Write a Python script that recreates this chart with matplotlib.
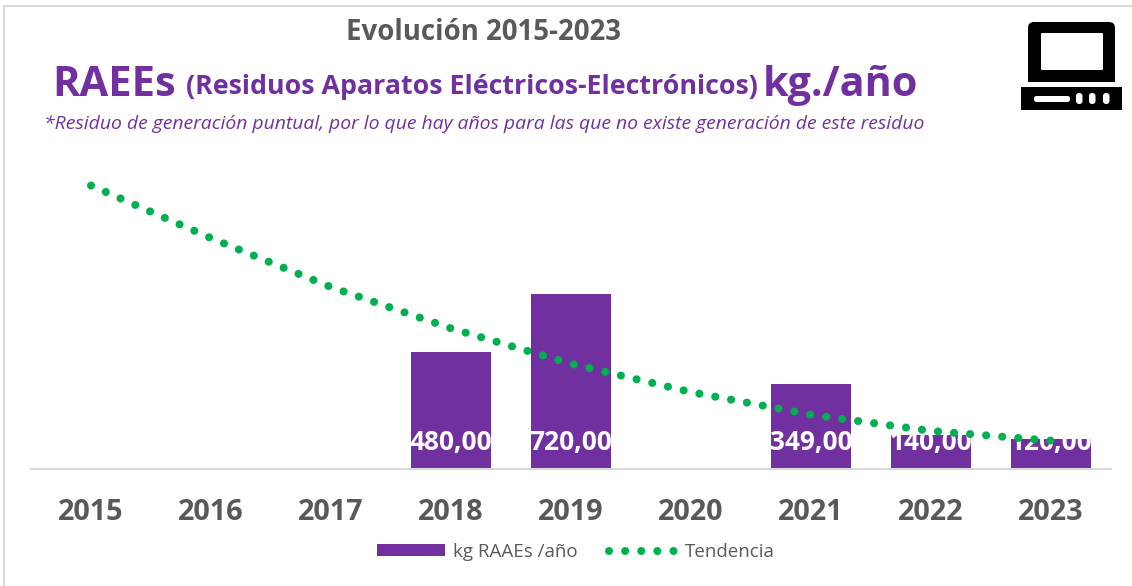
import matplotlib
matplotlib.use('Agg')
import matplotlib.pyplot as plt
from matplotlib.patches import Rectangle, FancyBboxPatch
from matplotlib.lines import Line2D

W, H = 1132, 586
plt.rcParams['font.family'] = ['Open Sans', 'DejaVu Sans']

# Data
years = ['2015', '2016', '2017', '2018', '2019', '2020', '2021', '2022', '2023']
bar_values = [0, 0, 0, 480, 720, 0, 349, 140, 120]
trend_values = [1167, 950, 748, 578, 432, 315, 222, 155, 115]
bar_labels = ['', '', '', '480,00', '720,00', '', '349,00', '140,00', '120,00']

purple = '#7030A0'
green = '#00B050'
grey = '#595959'

fig = plt.figure(figsize=(W / 100, H / 100), dpi=100, facecolor='white')
ax = fig.add_axes([31 / W, 1 - 468.5 / H, 1080 / W, 338 / H])
ax.set_facecolor('none')

pos = list(range(len(years)))
bars = ax.bar(pos, bar_values, width=2 / 3, color=purple, label='kg RAAEs /año', zorder=2)
trend, = ax.plot(pos, trend_values, color=green, lw=5.8, linestyle=(0, (0.01, 1.99)),
                 dash_capstyle='round', label='Tendencia', zorder=4)

ax.set_xlim(-0.5, 8.5)
ax.set_ylim(0, 338 / 0.2425)
ax.set_yticks([])
ax.set_xticks(pos, years, fontsize=20.8, fontweight='bold', color=grey)
ax.tick_params(axis='x', length=0, pad=21)
for s in ['top', 'left', 'right']:
    ax.spines[s].set_visible(False)
ax.spines['bottom'].set_color('#D9D9D9')
ax.spines['bottom'].set_linewidth(1.5)

# labels sit at the same height inside each bar
for p, lab in zip(pos, bar_labels):
    if lab:
        ax.annotate(lab, (p, 0), xytext=(0, 19), textcoords='offset points', ha='center', va='center',
                    fontsize=18.9, fontweight='bold', color='white', zorder=3)

leg = ax.legend(handles=[bars, trend], loc='center', bbox_to_anchor=(576 / W, 1 - 552 / H),
                bbox_transform=fig.transFigure, ncol=2, frameon=False, fontsize=13.5,
                handlelength=3.65, handleheight=0.6, handletextpad=0.4, columnspacing=1.7, labelcolor=grey)

# titles
fig.text(484 / W, 1 - 33 / H, 'Evolución 2015-2023', fontsize=19.9, fontweight='bold', color=grey, ha='center', va='center')
fig.text(52 / W, 1 - 85 / H, 'RAEEs', fontsize=30, fontweight='bold', color=purple, va='center')
fig.text(186 / W, 1 - 87 / H, '(Residuos Aparatos Eléctricos-Electrónicos)', fontsize=19.25, fontweight='bold', color=purple, va='center')
fig.text(763 / W, 1 - 85 / H, 'kg./año', fontsize=29.7, fontweight='bold', color=purple, va='center')
fig.text(44 / W, 1 - 124 / H, '*Residuo de generación puntual, por lo que hay años para las que no existe generación de este residuo',
         fontsize=13.97, fontstyle='italic', color=purple, va='center')

# chart frame, only left and top show
fig.add_artist(Line2D([4 / W, 4 / W], [0, 1 - 6 / H], color='#D9D9D9', lw=1.5))
fig.add_artist(Line2D([4 / W, 1], [1 - 6 / H, 1 - 6 / H], color='#D9D9D9', lw=1.5))

# computer icon, pixel coordinates
icon = fig.add_axes([0, 0, 1, 1], facecolor='none')
icon.set_xlim(0, W)
icon.set_ylim(H, 0)
icon.axis('off')
icon.add_patch(FancyBboxPatch((1028, 22), 87, 40, boxstyle='round,pad=0,rounding_size=6', fc='black', ec='none'))
icon.add_patch(Rectangle((1028, 40), 87, 42, fc='black', ec='none'))
icon.add_patch(FancyBboxPatch((1041, 33), 62, 37, boxstyle='round,pad=0,rounding_size=1', fc='white', ec='none'))
icon.add_patch(Rectangle((1021, 87), 101, 23, fc='black', ec='none'))
icon.add_patch(FancyBboxPatch((1034, 96), 36, 6, boxstyle='round,pad=0,rounding_size=2.5', fc='white', ec='none'))
for x in [1076, 1089, 1103]:
    icon.add_patch(FancyBboxPatch((x, 93), 6.5, 11, boxstyle='round,pad=0,rounding_size=3', fc='white', ec='none'))

fig.savefig('out.png', dpi=100)
